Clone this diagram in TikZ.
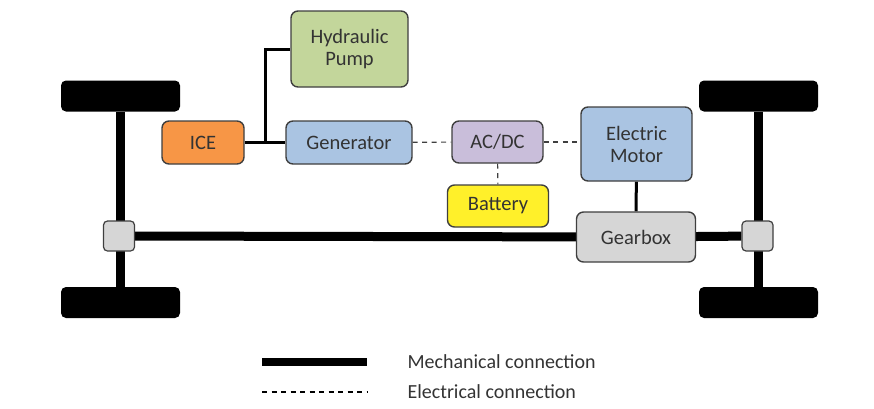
\documentclass[tikz,border=0pt]{standalone}
\usepackage{fontspec}
\setmainfont{Carlito}
\usetikzlibrary{positioning, backgrounds}
\definecolor{clrEdge}{HTML}{3F3F3F}
\definecolor{clrText}{HTML}{333333}
\definecolor{clrIce}{HTML}{F79646}
\definecolor{clrBlue}{HTML}{AAC4E2}
\definecolor{clrPump}{HTML}{C3D69B}
\definecolor{clrConv}{HTML}{C9BEDA}
\definecolor{clrBatt}{HTML}{FFF02A}
\definecolor{clrGray}{HTML}{D6D6D6}
\tikzset{
  unit/.style = {rectangle, rounded corners=7pt, draw=clrEdge, line width=1.4pt,
                 align=center, inner sep=0pt, text=clrText,
                 font=\fontsize{20.5}{22}\selectfont},
  wheel/.style = {rectangle, rounded corners=5pt, fill=black, minimum width=119pt,
                  minimum height=31pt, inner sep=0pt},
  joint/.style = {rectangle, rounded corners=4pt, draw=clrEdge, line width=1.2pt,
                  fill=clrGray, minimum width=31pt, minimum height=30pt, inner sep=0pt},
  mech/.style = {line width=9pt},
  link/.style = {line width=3pt},
  elec/.style = {draw=clrEdge, line width=1.1pt, dash pattern=on 5pt off 4.5pt},
  legend/.style = {anchor=west, text=clrText, font=\fontsize{20}{22}\selectfont},
}

\begin{document}
\begin{tikzpicture}[x=1pt, y=-1pt]
  \useasboundingbox (0,0) rectangle (874,408);

  % Wheels and joints
  \node[wheel] (wheelLT) at (120.5,96)    {};
  \node[wheel] (wheelLB) at (120.5,302.5) {};
  \node[wheel] (wheelRT) at (758.5,96)    {};
  \node[wheel] (wheelRB) at (758.5,302.5) {};
  \node[joint] (jointL)  at (119,236)     {};
  \node[joint] (jointR)  at (757.5,236)   {};

  % Power units
  \node[unit, fill=clrIce,  minimum width=82pt,  minimum height=43pt] (ICE)  at (203,142.5)   {ICE};
  \node[unit, fill=clrBlue, minimum width=126pt, minimum height=43pt] (Gen)  at (349,142.5)   {Generator};
  \node[unit, fill=clrPump, minimum width=117pt, minimum height=76pt] (Pump) at (349.5,49)    {Hydraulic\\Pump};
  \node[unit, fill=clrConv, minimum width=91pt,  minimum height=42pt] (Conv) at (497.5,142)   {AC/DC};
  \node[unit, fill=clrBatt, minimum width=101pt, minimum height=42pt] (Batt) at (498,206)     {Battery};
  \node[unit, fill=clrBlue, minimum width=111pt, minimum height=74pt] (Motor) at (636.5,144)  {Electric\\Motor};
  \node[unit, fill=clrGray, minimum width=119pt, minimum height=50pt] (Gear) at (636,237)     {Gearbox};

  \begin{scope}[on background layer]
    % Axles and drive shaft
    \draw[mech] (wheelLT) -- (wheelLB);
    \draw[mech] (wheelRT) -- (wheelRB);
    \draw[mech] (jointL) -- (Gear);
    \draw[mech] (Gear) -- (jointR);

    % Mechanical links
    \coordinate (tee) at (265,142.5);
    \draw[link] (ICE) -- (Gen);
    \draw[link] (Pump.west) -| (tee);
    \draw[link] (Motor) -- (Gear);

    % Electrical links
    \draw[elec] (Gen) -- (Conv);
    \draw[elec] (Conv.east) -- (Conv.east -| Motor.west);
    \draw[elec] (Conv) -- (Batt);
  \end{scope}

  % Legend
  \coordinate (mechA) at (262,362);
  \coordinate (mechB) at (367,362);
  \coordinate (elecA) at (262,392);
  \coordinate (elecB) at (367,392);
  \draw[line width=7.5pt] (mechA) -- (mechB);
  \draw[elec, draw=black] (elecA) -- (elecB);
  \node[legend] (mechTxt) at (404,362) {Mechanical connection};
  \node[legend] (elecTxt) at (404,392) {Electrical connection};

\end{tikzpicture}
\end{document}
